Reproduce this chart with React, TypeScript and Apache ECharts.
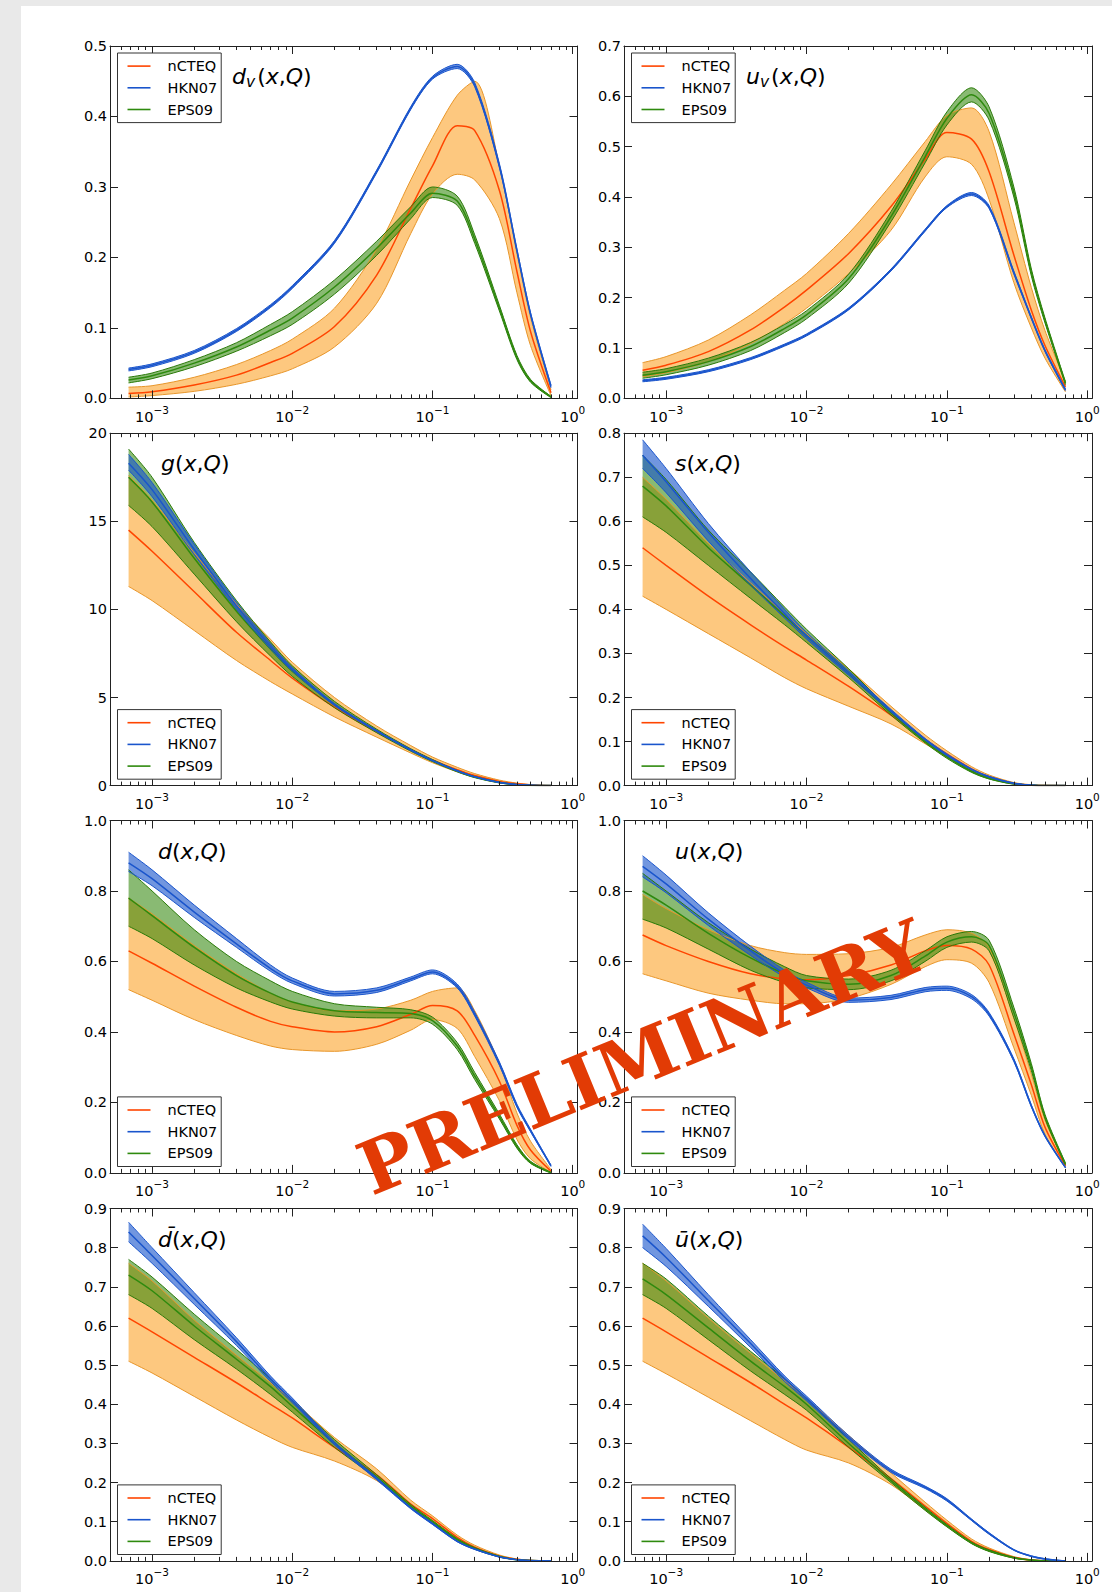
import React, { useEffect, useRef } from 'react';
import * as echarts from 'echarts';

// ---------- data ----------
const xs = [0.00068, 0.001, 0.002, 0.004, 0.007, 0.01, 0.02, 0.04, 0.07, 0.1, 0.15, 0.2, 0.3, 0.4, 0.5, 0.7];
const xTickExponents = [-3, -2, -1, 0];

// d_v(x,Q)
const dv_nCTEQ_c = [0.007, 0.0095, 0.019, 0.033, 0.051, 0.064, 0.102, 0.175, 0.27, 0.33, 0.387, 0.38, 0.295, 0.18, 0.095, 0.008];
const dv_nCTEQ_lo = [0.002, 0.004, 0.01, 0.02, 0.032, 0.042, 0.073, 0.135, 0.234, 0.29, 0.318, 0.31, 0.255, 0.15, 0.075, 0.004];
const dv_nCTEQ_hi = [0.016, 0.018, 0.03, 0.048, 0.068, 0.084, 0.128, 0.212, 0.31, 0.37, 0.43, 0.45, 0.33, 0.205, 0.115, 0.012];
const dv_EPS09_c = [0.026, 0.032, 0.05, 0.073, 0.097, 0.114, 0.158, 0.213, 0.263, 0.291, 0.28, 0.226, 0.128, 0.058, 0.025, 0.002];
const dv_EPS09_lo = [0.022, 0.028, 0.045, 0.067, 0.089, 0.105, 0.148, 0.203, 0.255, 0.285, 0.274, 0.22, 0.124, 0.055, 0.023, 0.001];
const dv_EPS09_hi = [0.03, 0.036, 0.055, 0.079, 0.105, 0.123, 0.168, 0.223, 0.272, 0.3, 0.287, 0.232, 0.132, 0.061, 0.027, 0.003];
const dv_HKN07_c = [0.041, 0.047, 0.066, 0.097, 0.131, 0.158, 0.222, 0.322, 0.412, 0.455, 0.471, 0.445, 0.33, 0.21, 0.12, 0.017];
const dv_HKN07_lo = [0.039, 0.045, 0.064, 0.095, 0.129, 0.156, 0.22, 0.32, 0.41, 0.453, 0.468, 0.442, 0.327, 0.208, 0.118, 0.015];
const dv_HKN07_hi = [0.043, 0.049, 0.068, 0.099, 0.133, 0.16, 0.224, 0.324, 0.414, 0.457, 0.474, 0.448, 0.333, 0.212, 0.122, 0.019];

// u_v(x,Q)
const uv_nCTEQ_c = [0.056, 0.066, 0.093, 0.136, 0.182, 0.215, 0.288, 0.381, 0.475, 0.528, 0.515, 0.45, 0.285, 0.175, 0.105, 0.023];
const uv_nCTEQ_lo = [0.043, 0.051, 0.073, 0.109, 0.149, 0.179, 0.248, 0.334, 0.44, 0.48, 0.465, 0.395, 0.23, 0.14, 0.08, 0.013];
const uv_nCTEQ_hi = [0.071, 0.083, 0.116, 0.166, 0.215, 0.248, 0.328, 0.424, 0.51, 0.562, 0.577, 0.53, 0.35, 0.22, 0.135, 0.033];
const uv_EPS09_c = [0.046, 0.053, 0.073, 0.103, 0.139, 0.166, 0.238, 0.361, 0.48, 0.556, 0.603, 0.566, 0.41, 0.25, 0.155, 0.03];
const uv_EPS09_lo = [0.04, 0.047, 0.066, 0.095, 0.131, 0.158, 0.229, 0.351, 0.468, 0.543, 0.589, 0.553, 0.4, 0.243, 0.15, 0.027];
const uv_EPS09_hi = [0.052, 0.059, 0.08, 0.111, 0.147, 0.174, 0.247, 0.371, 0.492, 0.569, 0.617, 0.579, 0.42, 0.257, 0.16, 0.033];
const uv_HKN07_c = [0.035, 0.04, 0.055, 0.079, 0.106, 0.126, 0.178, 0.255, 0.334, 0.381, 0.406, 0.38, 0.25, 0.16, 0.095, 0.017];
const uv_HKN07_lo = [0.033, 0.038, 0.053, 0.077, 0.104, 0.124, 0.176, 0.253, 0.332, 0.379, 0.403, 0.377, 0.247, 0.158, 0.093, 0.015];
const uv_HKN07_hi = [0.037, 0.042, 0.057, 0.081, 0.108, 0.128, 0.18, 0.257, 0.336, 0.383, 0.409, 0.383, 0.253, 0.162, 0.097, 0.019];

// g(x,Q)
const g_nCTEQ_c = [14.5, 13.3, 11.0, 8.7, 7.1, 6.1, 4.45, 3.05, 2.05, 1.45, 0.9, 0.57, 0.24, 0.1, 0.04, 0];
const g_nCTEQ_lo = [11.3, 10.5, 8.8, 7.1, 5.9, 5.2, 3.9, 2.75, 1.85, 1.3, 0.78, 0.48, 0.18, 0.06, 0.02, 0];
const g_nCTEQ_hi = [17.6, 16.2, 13.2, 10.3, 8.3, 7.0, 5.0, 3.38, 2.27, 1.62, 1.04, 0.68, 0.31, 0.14, 0.06, 0];
const g_EPS09_c = [17.5, 16.1, 12.9, 9.9, 7.75, 6.5, 4.6, 3.1, 2.02, 1.42, 0.82, 0.48, 0.17, 0.05, 0.01, 0];
const g_EPS09_lo = [15.9, 14.7, 12.0, 9.3, 7.35, 6.2, 4.42, 3.0, 1.95, 1.36, 0.78, 0.45, 0.15, 0.04, 0.01, 0];
const g_EPS09_hi = [19.1, 17.5, 13.8, 10.5, 8.15, 6.8, 4.78, 3.2, 2.09, 1.48, 0.86, 0.52, 0.2, 0.06, 0.02, 0];
const g_HKN07_c = [18.3, 16.8, 13.4, 10.2, 7.9, 6.6, 4.6, 3.1, 2.02, 1.42, 0.84, 0.5, 0.18, 0.06, 0.02, 0];
const g_HKN07_lo = [17.9, 16.4, 13.1, 10.0, 7.75, 6.5, 4.54, 3.06, 1.99, 1.4, 0.82, 0.49, 0.17, 0.055, 0.015, 0];
const g_HKN07_hi = [18.8, 17.2, 13.7, 10.4, 8.05, 6.7, 4.66, 3.14, 2.05, 1.45, 0.86, 0.51, 0.19, 0.065, 0.025, 0];

// s(x,Q)
const s_nCTEQ_c = [0.54, 0.5, 0.43, 0.365, 0.315, 0.285, 0.225, 0.16, 0.105, 0.072, 0.038, 0.02, 0.005, 0.001, 0, 0];
const s_nCTEQ_lo = [0.43, 0.4, 0.345, 0.29, 0.245, 0.22, 0.18, 0.14, 0.095, 0.065, 0.033, 0.017, 0.004, 0.001, 0, 0];
const s_nCTEQ_hi = [0.7, 0.65, 0.55, 0.46, 0.39, 0.345, 0.265, 0.18, 0.115, 0.079, 0.043, 0.024, 0.007, 0.002, 0.001, 0];
const s_EPS09_c = [0.68, 0.635, 0.54, 0.455, 0.385, 0.34, 0.255, 0.165, 0.1, 0.065, 0.032, 0.016, 0.004, 0.001, 0, 0];
const s_EPS09_lo = [0.61, 0.575, 0.5, 0.425, 0.365, 0.325, 0.245, 0.16, 0.097, 0.062, 0.03, 0.015, 0.003, 0.001, 0, 0];
const s_EPS09_hi = [0.75, 0.695, 0.58, 0.485, 0.405, 0.355, 0.265, 0.17, 0.103, 0.068, 0.034, 0.018, 0.005, 0.001, 0, 0];
const s_HKN07_c = [0.75, 0.69, 0.575, 0.47, 0.39, 0.34, 0.255, 0.17, 0.105, 0.07, 0.037, 0.02, 0.005, 0.001, 0, 0];
const s_HKN07_lo = [0.72, 0.665, 0.555, 0.455, 0.38, 0.333, 0.25, 0.167, 0.103, 0.068, 0.036, 0.019, 0.005, 0.001, 0, 0];
const s_HKN07_hi = [0.785, 0.72, 0.595, 0.485, 0.4, 0.348, 0.26, 0.173, 0.107, 0.072, 0.038, 0.021, 0.006, 0.001, 0, 0];

// d(x,Q)
const d_nCTEQ_c = [0.63, 0.595, 0.53, 0.47, 0.43, 0.415, 0.4, 0.415, 0.45, 0.475, 0.46, 0.39, 0.26, 0.135, 0.065, 0.005];
const d_nCTEQ_lo = [0.52, 0.49, 0.435, 0.39, 0.36, 0.35, 0.345, 0.365, 0.405, 0.435, 0.41, 0.33, 0.205, 0.095, 0.04, 0.002];
const d_nCTEQ_hi = [0.78, 0.735, 0.645, 0.565, 0.51, 0.485, 0.46, 0.465, 0.49, 0.515, 0.525, 0.46, 0.31, 0.17, 0.09, 0.01];
const d_EPS09_c = [0.78, 0.73, 0.64, 0.56, 0.51, 0.485, 0.46, 0.455, 0.452, 0.432, 0.36, 0.275, 0.16, 0.075, 0.03, 0];
const d_EPS09_lo = [0.7, 0.665, 0.59, 0.525, 0.485, 0.465, 0.445, 0.44, 0.44, 0.422, 0.35, 0.265, 0.153, 0.07, 0.027, 0];
const d_EPS09_hi = [0.86, 0.8, 0.69, 0.6, 0.545, 0.515, 0.48, 0.47, 0.463, 0.442, 0.37, 0.285, 0.167, 0.08, 0.033, 0.002];
const d_HKN07_c = [0.88, 0.835, 0.74, 0.65, 0.58, 0.545, 0.508, 0.518, 0.55, 0.57, 0.53, 0.45, 0.31, 0.19, 0.12, 0.02];
const d_HKN07_lo = [0.855, 0.815, 0.725, 0.64, 0.572, 0.538, 0.502, 0.512, 0.545, 0.565, 0.525, 0.445, 0.305, 0.186, 0.117, 0.018];
const d_HKN07_hi = [0.91, 0.86, 0.76, 0.665, 0.59, 0.553, 0.515, 0.525, 0.556, 0.576, 0.536, 0.456, 0.315, 0.195, 0.124, 0.022];

// u(x,Q)
const u_nCTEQ_c = [0.675, 0.645, 0.6, 0.565, 0.55, 0.548, 0.56, 0.59, 0.63, 0.645, 0.635, 0.59, 0.395, 0.25, 0.13, 0.02];
const u_nCTEQ_lo = [0.565, 0.545, 0.51, 0.49, 0.48, 0.48, 0.495, 0.535, 0.585, 0.605, 0.595, 0.54, 0.355, 0.22, 0.11, 0.015];
const u_nCTEQ_hi = [0.79, 0.75, 0.69, 0.645, 0.625, 0.62, 0.622, 0.64, 0.675, 0.69, 0.68, 0.64, 0.44, 0.28, 0.15, 0.025];
const u_EPS09_c = [0.8, 0.76, 0.68, 0.61, 0.565, 0.545, 0.535, 0.56, 0.615, 0.655, 0.67, 0.645, 0.455, 0.3, 0.16, 0.025];
const u_EPS09_lo = [0.72, 0.695, 0.635, 0.575, 0.54, 0.525, 0.52, 0.545, 0.6, 0.64, 0.655, 0.63, 0.44, 0.29, 0.154, 0.022];
const u_EPS09_hi = [0.85, 0.8, 0.71, 0.635, 0.585, 0.56, 0.55, 0.575, 0.63, 0.67, 0.685, 0.66, 0.47, 0.31, 0.166, 0.028];
const u_HKN07_c = [0.87, 0.82, 0.72, 0.63, 0.565, 0.533, 0.49, 0.498, 0.52, 0.524, 0.5, 0.45, 0.32, 0.19, 0.105, 0.015];
const u_HKN07_lo = [0.84, 0.795, 0.702, 0.617, 0.555, 0.525, 0.484, 0.492, 0.514, 0.518, 0.494, 0.445, 0.316, 0.187, 0.103, 0.014];
const u_HKN07_hi = [0.9, 0.845, 0.738, 0.643, 0.575, 0.541, 0.496, 0.504, 0.526, 0.53, 0.506, 0.455, 0.324, 0.193, 0.107, 0.016];

// dbar(x,Q)
const db_nCTEQ_c = [0.62, 0.585, 0.52, 0.455, 0.4, 0.365, 0.29, 0.22, 0.145, 0.108, 0.06, 0.035, 0.012, 0.004, 0.001, 0];
const db_nCTEQ_lo = [0.51, 0.48, 0.42, 0.36, 0.315, 0.29, 0.255, 0.205, 0.138, 0.1, 0.054, 0.031, 0.01, 0.003, 0.001, 0];
const db_nCTEQ_hi = [0.76, 0.715, 0.615, 0.525, 0.455, 0.41, 0.315, 0.235, 0.155, 0.115, 0.066, 0.04, 0.015, 0.005, 0.002, 0];
const db_EPS09_c = [0.73, 0.69, 0.6, 0.515, 0.445, 0.395, 0.3, 0.215, 0.14, 0.1, 0.055, 0.032, 0.011, 0.003, 0.001, 0];
const db_EPS09_lo = [0.68, 0.645, 0.565, 0.49, 0.425, 0.38, 0.29, 0.21, 0.136, 0.097, 0.053, 0.03, 0.01, 0.003, 0.001, 0];
const db_EPS09_hi = [0.77, 0.725, 0.63, 0.54, 0.465, 0.41, 0.31, 0.22, 0.144, 0.103, 0.057, 0.034, 0.012, 0.003, 0.001, 0];
const db_HKN07_c = [0.84, 0.78, 0.67, 0.56, 0.465, 0.41, 0.3, 0.21, 0.135, 0.095, 0.05, 0.03, 0.01, 0.003, 0.001, 0];
const db_HKN07_lo = [0.815, 0.76, 0.655, 0.55, 0.458, 0.404, 0.296, 0.207, 0.133, 0.093, 0.049, 0.029, 0.01, 0.003, 0.001, 0];
const db_HKN07_hi = [0.865, 0.8, 0.685, 0.57, 0.472, 0.416, 0.304, 0.213, 0.137, 0.097, 0.051, 0.031, 0.011, 0.003, 0.001, 0];

// ubar(x,Q)
const ub_nCTEQ_c = [0.62, 0.585, 0.52, 0.455, 0.4, 0.365, 0.29, 0.21, 0.14, 0.096, 0.05, 0.029, 0.009, 0.002, 0, 0];
const ub_nCTEQ_lo = [0.51, 0.478, 0.418, 0.358, 0.31, 0.283, 0.25, 0.195, 0.13, 0.088, 0.045, 0.025, 0.007, 0.002, 0, 0];
const ub_nCTEQ_hi = [0.76, 0.715, 0.62, 0.53, 0.46, 0.415, 0.32, 0.225, 0.15, 0.104, 0.056, 0.033, 0.011, 0.003, 0.001, 0];
const ub_EPS09_c = [0.72, 0.68, 0.595, 0.51, 0.445, 0.4, 0.3, 0.205, 0.133, 0.09, 0.046, 0.026, 0.008, 0.002, 0, 0];
const ub_EPS09_lo = [0.68, 0.645, 0.565, 0.485, 0.425, 0.385, 0.29, 0.2, 0.129, 0.087, 0.044, 0.024, 0.007, 0.002, 0, 0];
const ub_EPS09_hi = [0.76, 0.72, 0.625, 0.535, 0.465, 0.415, 0.31, 0.21, 0.137, 0.093, 0.048, 0.028, 0.009, 0.002, 0, 0];
const ub_HKN07_c = [0.83, 0.775, 0.665, 0.555, 0.465, 0.415, 0.315, 0.23, 0.188, 0.156, 0.105, 0.07, 0.028, 0.012, 0.005, 0];
const ub_HKN07_lo = [0.8, 0.752, 0.65, 0.545, 0.458, 0.409, 0.31, 0.226, 0.185, 0.153, 0.103, 0.068, 0.027, 0.011, 0.004, 0];
const ub_HKN07_hi = [0.86, 0.798, 0.68, 0.565, 0.472, 0.421, 0.32, 0.234, 0.191, 0.159, 0.107, 0.072, 0.029, 0.013, 0.006, 0];

const legendNames = ['nCTEQ', 'HKN07', 'EPS09'];
const drawOrder = ['nCTEQ', 'EPS09', 'HKN07'];

// ---------- panels ----------
type Trio = [number[], number[], number[]];
interface Panel {
  key: string;
  sets: Record<string, Trio>;
  yMax: number;
  yStep: number;
  dec: number;
  legendTop: boolean;
  title: [string, string][];
  titleX: number;
}

const PANELS: Panel[] = [
  { key: 'dv', sets: { nCTEQ: [dv_nCTEQ_lo, dv_nCTEQ_c, dv_nCTEQ_hi], EPS09: [dv_EPS09_lo, dv_EPS09_c, dv_EPS09_hi], HKN07: [dv_HKN07_lo, dv_HKN07_c, dv_HKN07_hi] },
    yMax: 0.5, yStep: 0.1, dec: 1, legendTop: true, titleX: 232,
    title: [['i', 'd'], ['s', 'v'], ['r', '('], ['i', 'x'], ['r', ','], ['i', 'Q'], ['r', ')']] },
  { key: 'uv', sets: { nCTEQ: [uv_nCTEQ_lo, uv_nCTEQ_c, uv_nCTEQ_hi], EPS09: [uv_EPS09_lo, uv_EPS09_c, uv_EPS09_hi], HKN07: [uv_HKN07_lo, uv_HKN07_c, uv_HKN07_hi] },
    yMax: 0.7, yStep: 0.1, dec: 1, legendTop: true, titleX: 746,
    title: [['i', 'u'], ['s', 'v'], ['r', '('], ['i', 'x'], ['r', ','], ['i', 'Q'], ['r', ')']] },
  { key: 'g', sets: { nCTEQ: [g_nCTEQ_lo, g_nCTEQ_c, g_nCTEQ_hi], EPS09: [g_EPS09_lo, g_EPS09_c, g_EPS09_hi], HKN07: [g_HKN07_lo, g_HKN07_c, g_HKN07_hi] },
    yMax: 20, yStep: 5, dec: 0, legendTop: false, titleX: 161,
    title: [['i', 'g'], ['r', '('], ['i', 'x'], ['r', ','], ['i', 'Q'], ['r', ')']] },
  { key: 's', sets: { nCTEQ: [s_nCTEQ_lo, s_nCTEQ_c, s_nCTEQ_hi], EPS09: [s_EPS09_lo, s_EPS09_c, s_EPS09_hi], HKN07: [s_HKN07_lo, s_HKN07_c, s_HKN07_hi] },
    yMax: 0.8, yStep: 0.1, dec: 1, legendTop: false, titleX: 675,
    title: [['i', 's'], ['r', '('], ['i', 'x'], ['r', ','], ['i', 'Q'], ['r', ')']] },
  { key: 'd', sets: { nCTEQ: [d_nCTEQ_lo, d_nCTEQ_c, d_nCTEQ_hi], EPS09: [d_EPS09_lo, d_EPS09_c, d_EPS09_hi], HKN07: [d_HKN07_lo, d_HKN07_c, d_HKN07_hi] },
    yMax: 1.0, yStep: 0.2, dec: 1, legendTop: false, titleX: 158,
    title: [['i', 'd'], ['r', '('], ['i', 'x'], ['r', ','], ['i', 'Q'], ['r', ')']] },
  { key: 'u', sets: { nCTEQ: [u_nCTEQ_lo, u_nCTEQ_c, u_nCTEQ_hi], EPS09: [u_EPS09_lo, u_EPS09_c, u_EPS09_hi], HKN07: [u_HKN07_lo, u_HKN07_c, u_HKN07_hi] },
    yMax: 1.0, yStep: 0.2, dec: 1, legendTop: false, titleX: 675,
    title: [['i', 'u'], ['r', '('], ['i', 'x'], ['r', ','], ['i', 'Q'], ['r', ')']] },
  { key: 'db', sets: { nCTEQ: [db_nCTEQ_lo, db_nCTEQ_c, db_nCTEQ_hi], EPS09: [db_EPS09_lo, db_EPS09_c, db_EPS09_hi], HKN07: [db_HKN07_lo, db_HKN07_c, db_HKN07_hi] },
    yMax: 0.9, yStep: 0.1, dec: 1, legendTop: false, titleX: 158,
    title: [['i', 'd\u0304'], ['r', '('], ['i', 'x'], ['r', ','], ['i', 'Q'], ['r', ')']] },
  { key: 'ub', sets: { nCTEQ: [ub_nCTEQ_lo, ub_nCTEQ_c, ub_nCTEQ_hi], EPS09: [ub_EPS09_lo, ub_EPS09_c, ub_EPS09_hi], HKN07: [ub_HKN07_lo, ub_HKN07_c, ub_HKN07_hi] },
    yMax: 0.9, yStep: 0.1, dec: 1, legendTop: false, titleX: 675,
    title: [['i', 'u\u0304'], ['r', '('], ['i', 'x'], ['r', ','], ['i', 'Q'], ['r', ')']] },
];

// ---------- layout & style ----------
const COL_LEFT = [110, 624];
const COL_W = [467.5, 468];
const ROW_TOP = [46, 433.2, 820.5, 1208.5];
const ROW_H = 352.4;
const XMIN = -3.3;
const XMAX = 0.034;
const FONT = 'DejaVu Sans';
const AX = '#222';
const SMOOTH = 0.3;

const STY: Record<string, { line: string; edge: string; fill: string }> = {
  nCTEQ: { line: '#ff4500', edge: '#e8962a', fill: 'rgba(252,145,0,0.5)' },
  HKN07: { line: '#1a55cc', edge: '#1a55cc', fill: 'rgba(26,85,204,0.62)' },
  EPS09: { line: '#2e8a0e', edge: '#2a7a08', fill: 'rgba(40,130,0,0.55)' },
};

function minorTicks(): number[] {
  const out: number[] = [];
  for (let n = -4; n <= -1; n++) {
    for (let k = 2; k <= 9; k++) {
      const v = n + Math.log10(k);
      if (v > XMIN + 0.005 && v < XMAX - 0.005) out.push(v);
    }
  }
  return out;
}

function buildOption() {
  const lx = xs.map((x) => Math.log10(x));
  const minors = minorTicks();
  const grid: any[] = [];
  const xAxis: any[] = [];
  const yAxis: any[] = [];
  const series: any[] = [];
  const legend: any[] = [];
  const elements: any[] = [
    { type: 'rect', shape: { x: 21, y: 6, width: 1091, height: 1586 }, style: { fill: '#ffffff' }, z: -10, silent: true },
  ];

  const titleRich = {
    i: { fontFamily: FONT, fontStyle: 'italic', fontSize: 22, lineHeight: 27, fill: '#000' },
    r: { fontFamily: FONT, fontSize: 22, lineHeight: 27, fill: '#000' },
    s: { fontFamily: FONT, fontStyle: 'italic', fontSize: 15.5, lineHeight: 12, verticalAlign: 'bottom', fill: '#000', padding: [0, 2, 0, 0] },
  };

  PANELS.forEach((p, i) => {
    const row = Math.floor(i / 2);
    const col = i % 2;
    const left = COL_LEFT[col];
    const top = ROW_TOP[row];
    const width = COL_W[col];
    grid.push({ left, top, width, height: ROW_H, containLabel: false });

    const xBase = { type: 'value', gridIndex: i, min: XMIN, max: XMAX, splitLine: { show: false }, z: 10 };
    const xi = xAxis.length;
    xAxis.push({
      ...xBase, position: 'bottom',
      axisLine: { show: true, onZero: false, lineStyle: { color: AX, width: 1 } },
      axisTick: { show: true, inside: true, length: 8, customValues: xTickExponents, lineStyle: { color: AX, width: 1 } },
      axisLabel: {
        show: true, customValues: xTickExponents, margin: 6,
        formatter: (v: number) => {
          const e = Math.round(v);
          return `{b|10}{s|${e < 0 ? '\u2212' + -e : e}}`;
        },
        rich: {
          b: { fontFamily: FONT, fontSize: 14.5, lineHeight: 20, verticalAlign: 'bottom', color: '#000' },
          s: { fontFamily: FONT, fontSize: 10.5, lineHeight: 10, verticalAlign: 'top', color: '#000' },
        },
      },
    });
    xAxis.push({
      ...xBase, position: 'bottom',
      axisLine: { show: false, onZero: false },
      axisTick: { show: true, inside: true, length: 4, customValues: minors, lineStyle: { color: AX, width: 1 } },
      axisLabel: { show: false },
    });
    xAxis.push({
      ...xBase, position: 'top',
      axisLine: { show: true, onZero: false, lineStyle: { color: AX, width: 1 } },
      axisTick: { show: true, inside: true, length: 8, customValues: xTickExponents, lineStyle: { color: AX, width: 1 } },
      axisLabel: { show: false },
    });
    xAxis.push({
      ...xBase, position: 'top',
      axisLine: { show: false, onZero: false },
      axisTick: { show: true, inside: true, length: 4, customValues: minors, lineStyle: { color: AX, width: 1 } },
      axisLabel: { show: false },
    });

    const yi = yAxis.length;
    const yBase = { type: 'value', gridIndex: i, min: 0, max: p.yMax, interval: p.yStep, splitLine: { show: false }, z: 10 };
    yAxis.push({
      ...yBase, position: 'left',
      axisLine: { show: true, onZero: false, lineStyle: { color: AX, width: 1 } },
      axisTick: { show: true, inside: true, length: 8, lineStyle: { color: AX, width: 1 } },
      axisLabel: { show: true, margin: 3, fontFamily: FONT, fontSize: 14.5, color: '#000', formatter: (v: number) => v.toFixed(p.dec) },
    });
    yAxis.push({
      ...yBase, position: 'right',
      axisLine: { show: true, onZero: false, lineStyle: { color: AX, width: 1 } },
      axisTick: { show: true, inside: true, length: 8, lineStyle: { color: AX, width: 1 } },
      axisLabel: { show: false },
    });

    drawOrder.forEach((m) => {
      const [lo, c, hi] = p.sets[m];
      const st = STY[m];
      const stackId = `${p.key}-${m}`;
      const common = {
        type: 'line', xAxisIndex: xi, yAxisIndex: yi, showSymbol: false, symbol: 'none',
        smooth: SMOOTH, silent: true, z: 2,
      };
      series.push({
        ...common, name: `${stackId}-lo`, stack: stackId, encode: { x: 1, y: 0 },
        data: lo.map((v, j) => [v, lx[j]]),
        lineStyle: { color: st.edge, width: 1 }, itemStyle: { color: st.edge },
      });
      series.push({
        ...common, name: `${stackId}-band`, stack: stackId, encode: { x: 1, y: 0 },
        data: hi.map((v, j) => [v - lo[j], lx[j]]),
        lineStyle: { color: st.edge, width: 1 }, itemStyle: { color: st.edge },
        areaStyle: { color: st.fill, opacity: 1 },
      });
      series.push({
        ...common, name: m,
        data: c.map((v, j) => [lx[j], v]),
        lineStyle: { color: st.line, width: 1.5 }, itemStyle: { color: st.line },
      });
    });

    const legTop = p.legendTop ? top + 7 : top + ROW_H - 76;
    legend.push({
      left: left + 7.5, top: legTop, orient: 'vertical', selectedMode: false,
      padding: [5, 4, 5, 10], itemGap: 5.5, itemWidth: 23, itemHeight: 1.6, icon: 'rect',
      borderColor: '#333', borderWidth: 1, borderRadius: 0, backgroundColor: '#fff', z: 20,
      formatter: (name: string) => `{t|${name}}`,
      textStyle: {
        fontFamily: FONT, fontSize: 14.5, color: '#000', lineHeight: 16.2,
        rich: { t: { fontFamily: FONT, fontSize: 14.5, color: '#000', lineHeight: 16.2, padding: [0, 0, 0, 12] } },
      },
      data: legendNames.map((n) => ({ name: n, itemStyle: { color: STY[n].line } })),
    });

    elements.push({
      type: 'text', x: p.titleX, y: top + 30.5, z: 30, silent: true,
      style: {
        text: p.title.map(([k, t]) => `{${k}|${t}}`).join(''),
        rich: titleRich, align: 'left', verticalAlign: 'middle', fill: '#000',
      },
    });
  });

  elements.push({
    type: 'text', x: 642, y: 1057, rotation: 0.39, z: 100, silent: true,
    style: {
      text: 'PRELIMINARY', fill: '#e23b05', fontSize: 73, fontWeight: 'bold',
      fontFamily: 'DejaVu Serif', align: 'center', verticalAlign: 'middle',
    },
  });

  return {
    animation: false,
    backgroundColor: '#e9e9e9',
    grid, xAxis, yAxis, series, legend,
    graphic: { elements },
  };
}

export default function App() {
  const ref = useRef<HTMLDivElement>(null);
  useEffect(() => {
    if (!ref.current) return;
    const chart = echarts.init(ref.current, null, { renderer: 'svg' });
    chart.setOption(buildOption() as any);
    return () => chart.dispose();
  }, []);
  return <div ref={ref} style={{ position: 'absolute', left: 0, top: 0, width: 1112, height: 1592 }} />;
}
